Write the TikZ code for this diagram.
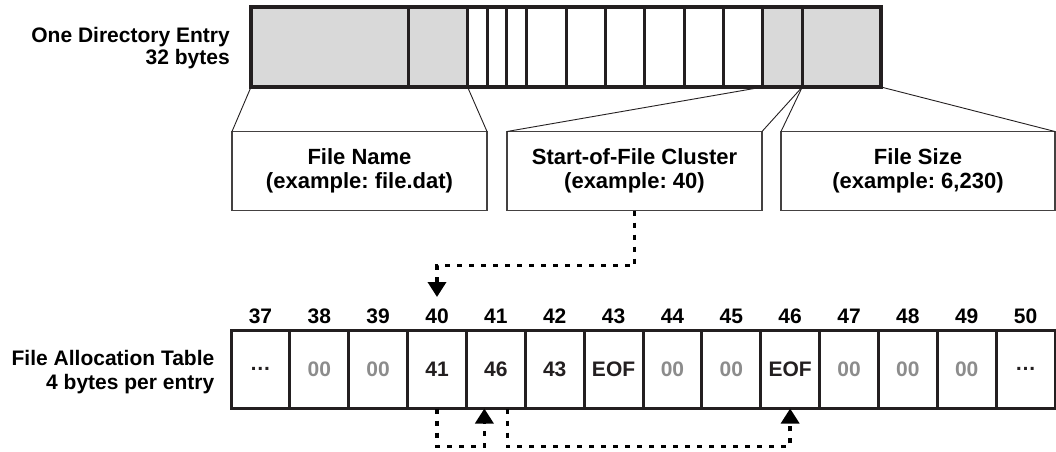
\documentclass[tikz,border=0pt]{standalone}
\usepackage{fontspec}
\setmainfont{Liberation Sans}
\usetikzlibrary{arrows.meta}
\definecolor{ink}{HTML}{231F20}
\definecolor{fillgray}{HTML}{D9D9D9}
\definecolor{dimtext}{HTML}{8C8C8C}
\frenchspacing
\begin{document}
\begin{tikzpicture}[x=1pt,y=-1pt,
  txt/.style={font=\fontsize{21}{23}\selectfont\bfseries},
  lbl/.style={align=right, inner sep=0pt, anchor=east},
  field/.style={draw=ink, line width=3pt, minimum height=80pt, inner sep=0pt, outer sep=0pt, anchor=north west},
  gfield/.style={field, fill=fillgray},
  infobox/.style={font=\fontsize{22}{24}\selectfont\bfseries, draw=ink!85, line width=1.6pt, minimum height=79pt, inner sep=0pt, outer sep=0pt, anchor=north west, align=center, execute at begin node={\rule{0pt}{21pt}}},
  zoomline/.style={draw=ink, line width=0.9pt},
  cell/.style={txt, draw=ink, line width=3pt, minimum width=58.857pt, minimum height=78.5pt, inner sep=0pt, outer sep=0pt, anchor=north west},
  num/.style={txt, inner sep=0pt, anchor=base},
  dotpath/.style={draw=black, line width=3.5pt, dash pattern=on 5pt off 7pt, -{Triangle[width=18pt,length=15pt]}}
]
\useasboundingbox (0,0) rectangle (1056,451);

% labels
\node[lbl, font=\fontsize{21}{22.5}\selectfont\bfseries] (dirlbl) at (230,48) {One Directory Entry\\32 bytes};
\node[lbl, font=\fontsize{21}{24}\selectfont\bfseries] (fatlbl) at (214.5,372.5) {File Allocation Table\\4 bytes per entry};

% info boxes
\node[infobox, minimum width=255pt] (b1) at (232,131.5) {File Name\\(example: file.dat)};
\node[infobox, minimum width=255pt] (b2) at (507,131.5) {Start-of-File Cluster\\(example: 40)};
\node[infobox, minimum width=274pt] (b3) at (781,131.5) {File Size\\(example: 6,230)};

% directory entry fields (32 bytes, 19.6875 per byte)
\node[gfield, minimum width=157.5pt] (f1) at (251,7) {};
\node[gfield, minimum width=59.06pt] (f2) at (f1.north east) {};
\node[field, minimum width=19.69pt] (f3) at (f2.north east) {};
\node[field, minimum width=19.69pt] (f4) at (f3.north east) {};
\node[field, minimum width=19.69pt] (f5) at (f4.north east) {};
\node[field, minimum width=39.375pt] (f6) at (f5.north east) {};
\node[field, minimum width=39.375pt] (f7) at (f6.north east) {};
\node[field, minimum width=39.375pt] (f8) at (f7.north east) {};
\node[field, minimum width=39.375pt] (f9) at (f8.north east) {};
\node[field, minimum width=39.375pt] (f10) at (f9.north east) {};
\node[field, minimum width=39.375pt] (f11) at (f10.north east) {};
\node[gfield, minimum width=39.375pt] (f12) at (f11.north east) {};
\node[gfield, minimum width=78.75pt] (f13) at (f12.north east) {};

% zoom lines
\draw[zoomline] (f1.south west) -- (b1.north west);
\draw[zoomline] (f2.south east) -- (b1.north east);
\draw[zoomline] (f11.south east) -- (b2.north west);
\draw[zoomline] (f12.south east) -- (b2.north east);
\draw[zoomline] (f12.south east) -- (b3.north west);
\draw[zoomline] (f13.south east) -- (b3.north east);

% redraw the bar outline on top
\draw[ink, line width=3.5pt] (f1.north west) rectangle (f13.south east);

% FAT cells
\foreach \n/\v/\c [count=\k from 0] in {37/…/ink,38/00/dimtext,39/00/dimtext,40/41/ink,41/46/ink,42/43/ink,43/EOF/ink,44/00/dimtext,45/00/dimtext,46/EOF/ink,47/00/dimtext,48/00/dimtext,49/00/dimtext,50/…/ink}{
  \node[cell, text=\c] (c\n) at (231+\k*58.857,330) {\v};
  \node[num] (h\n) at ([yshift=6.7pt]c\n.north) {\n};
}

% chain arrows
\draw[dotpath] (b2.south) -- ++(0,55) -| ([yshift=33pt]c40.north);
\draw[dotpath] (c40.south) -- ++(0,38) -| ([xshift=-11.5pt]c41.south);
\draw[dotpath] ([xshift=11.5pt]c41.south) -- ++(0,38) -| (c46.south);
\end{tikzpicture}
\end{document}
